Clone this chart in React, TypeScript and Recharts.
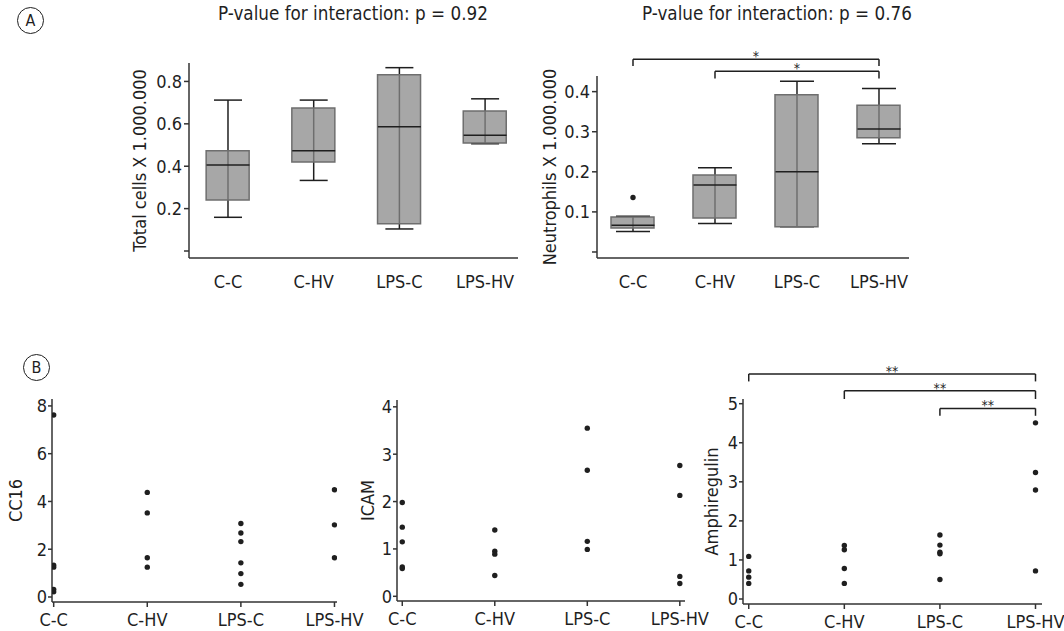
import {
  ComposedChart,
  ScatterChart,
  Bar,
  Scatter,
  ErrorBar,
  XAxis,
  YAxis,
  ReferenceLine,
} from "recharts";

const groups = ["C-C", "C-HV", "LPS-C", "LPS-HV"];

// panel A, total cells: whisker low, q1, median, q3, whisker high
const totalLow = [0.159, 0.333, 0.104, 0.506];
const totalQ1 = [0.241, 0.42, 0.129, 0.509];
const totalMedian = [0.406, 0.473, 0.586, 0.546];
const totalQ3 = [0.473, 0.675, 0.832, 0.66];
const totalHigh = [0.712, 0.712, 0.865, 0.718];

// panel A, neutrophils
const neutroLow = [0.051, 0.071, 0.063, 0.27];
const neutroQ1 = [0.06, 0.085, 0.063, 0.285];
const neutroMedian = [0.067, 0.167, 0.2, 0.307];
const neutroQ3 = [0.087, 0.192, 0.392, 0.366];
const neutroHigh = [0.089, 0.21, 0.426, 0.408];
const neutroOutliers = [{ x: 0, y: 0.136 }];

// panel B, individual values per group
const cc16 = [
  [7.62, 1.33, 1.25, 0.32, 0.22],
  [4.38, 3.52, 1.64, 1.25],
  [3.08, 2.68, 2.32, 1.43, 0.98, 0.53],
  [4.49, 3.02, 1.64],
];
const icam = [
  [1.98, 1.46, 1.15, 0.62, 0.585],
  [1.4, 0.95, 0.89, 0.44],
  [3.55, 2.66, 1.16, 0.99],
  [2.76, 2.13, 0.42, 0.27],
];
const amphiregulin = [
  [1.09, 0.72, 0.56, 0.4],
  [1.37, 1.26, 0.78, 0.4],
  [1.64, 1.38, 1.2, 1.16, 0.5],
  [4.51, 3.24, 2.79, 0.72],
];

const FONT = "'DejaVu Sans Condensed', 'DejaVu Sans', sans-serif";
const INK = "#1f1f1f";
const AXIS = "#333";

const boxRows = (lo: number[], q1: number[], med: number[], q3: number[], hi: number[]) =>
  groups.map((_, i) => ({ x: i, lo: lo[i], q1: q1[i], med: med[i], q3: q3[i], hi: hi[i] }));

const dot = (p: any) => <circle cx={p.cx} cy={p.cy} r={2.7} fill={INK} />;

function brackets(list: { from: number; to: number; top: number; foot: number; mark: string }[]) {
  const line = { stroke: INK, strokeWidth: 1.5, ifOverflow: "visible" as const };
  return list.map((b, k) => (
    <g key={k}>
      <ReferenceLine
        segment={[{ x: b.from, y: b.top }, { x: b.to, y: b.top }]}
        {...line}
        label={{ value: b.mark, position: "top", offset: -2, fill: INK, fontSize: 14, fontFamily: FONT }}
      />
      <ReferenceLine segment={[{ x: b.from, y: b.top }, { x: b.from, y: b.foot }]} {...line} />
      <ReferenceLine segment={[{ x: b.to, y: b.top }, { x: b.to, y: b.foot }]} {...line} />
    </g>
  ));
}

const tickStyle = { fill: INK, fontSize: 18, fontFamily: FONT };
const labelStyle = { textAnchor: "middle" as const, fill: INK, fontSize: 18, fontFamily: FONT };

function BoxPanel({ frame, rows, outliers, yDomain, yTicks, xDomain, yLabel, capHalf, marks }: any) {
  const medians = rows.map((r: any) => ({ x: r.x, y: r.med, err: [r.med - r.lo, r.hi - r.med] }));
  return (
    <div style={{ position: "absolute", left: frame.left, top: frame.top }}>
      <ComposedChart width={frame.width} height={frame.height} data={rows} margin={frame.margin}>
        <XAxis
          type="number"
          dataKey="x"
          domain={xDomain}
          ticks={[0, 1, 2, 3]}
          interval={0}
          allowDataOverflow
          tickFormatter={(i) => groups[i]}
          tickLine={false}
          tickSize={0}
          tickMargin={17}
          height={frame.xHeight}
          axisLine={{ stroke: AXIS, strokeWidth: 1.5 }}
          tick={tickStyle}
        />
        <YAxis
          type="number"
          domain={yDomain}
          ticks={yTicks}
          interval={0}
          allowDataOverflow
          width={frame.yWidth}
          tickFormatter={(v) => (v === 0 ? "" : String(v))}
          tickSize={5}
          tickMargin={2}
          tickLine={{ stroke: AXIS, strokeWidth: 1.5 }}
          axisLine={{ stroke: AXIS, strokeWidth: 1.5 }}
          tick={tickStyle}
          label={{ value: yLabel, angle: -90, position: "insideLeft", offset: frame.labelOffset, style: labelStyle }}
        />
        <Scatter data={medians} dataKey="y" shape={() => <g />} isAnimationActive={false} zIndex={200}>
          <ErrorBar dataKey="err" direction="y" width={capHalf} stroke={INK} strokeWidth={1.5} zIndex={200} />
        </Scatter>
        <Bar
          dataKey={(r: any) => [r.q1, r.q3]}
          barSize={43}
          fill="#8a8a8a"
          fillOpacity={0.75}
          stroke="#6e6e6e"
          strokeWidth={1.5}
          isAnimationActive={false}
          zIndex={500}
        />
        <Scatter
          data={medians}
          dataKey="y"
          isAnimationActive={false}
          zIndex={700}
          shape={(p: any) => (
            <line x1={p.cx - 21.5} x2={p.cx + 21.5} y1={p.cy} y2={p.cy} stroke={INK} strokeWidth={1.5} />
          )}
        />
        {outliers && <Scatter data={outliers} dataKey="y" shape={dot} isAnimationActive={false} zIndex={700} />}
        {marks}
      </ComposedChart>
    </div>
  );
}

function DotPanel({ frame, values, yDomain, yTicks, xDomain, yLabel, marks }: any) {
  const points = values.flatMap((vals: number[], i: number) => vals.map((v) => ({ x: i, y: v })));
  return (
    <div style={{ position: "absolute", left: frame.left, top: frame.top }}>
      <ScatterChart width={frame.width} height={frame.height} margin={frame.margin}>
        <XAxis
          type="number"
          dataKey="x"
          domain={xDomain}
          ticks={[0, 1, 2, 3]}
          interval={0}
          allowDataOverflow
          tickFormatter={(i) => groups[i]}
          tickSize={5}
          tickMargin={6}
          height={frame.xHeight}
          tickLine={{ stroke: AXIS, strokeWidth: 1.5 }}
          axisLine={{ stroke: AXIS, strokeWidth: 1.5 }}
          tick={tickStyle}
        />
        <YAxis
          type="number"
          dataKey="y"
          domain={yDomain}
          ticks={yTicks}
          interval={0}
          allowDataOverflow
          width={frame.yWidth}
          tickSize={4}
          tickMargin={1}
          tickLine={{ stroke: AXIS, strokeWidth: 1.5 }}
          axisLine={{ stroke: AXIS, strokeWidth: 1.5 }}
          tick={tickStyle}
          label={{ value: yLabel, angle: -90, position: "insideLeft", offset: frame.labelOffset, style: labelStyle }}
        />
        <Scatter data={points} shape={dot} isAnimationActive={false} />
        {marks}
      </ScatterChart>
    </div>
  );
}

const circled = (letter: string, left: number, top: number) => (
  <div
    style={{
      position: "absolute",
      left,
      top,
      width: 27,
      height: 27,
      boxSizing: "border-box",
      border: `1px solid ${INK}`,
      borderRadius: "50%",
      fontSize: 16,
      lineHeight: "25px",
      textAlign: "center",
      color: INK,
    }}
  >
    {letter}
  </div>
);

const title = (text: string, center: number) => (
  <div style={{ position: "absolute", left: center - 200, top: 3, width: 400, textAlign: "center", fontSize: 18.7, color: INK }}>
    {text}
  </div>
);

export default function App() {
  return (
    <div style={{ position: "absolute", left: 0, top: 0, width: 1064, height: 631, background: "#fff", fontFamily: FONT }}>
      {circled("A", 17, 7)}
      {circled("B", 23, 354)}
      {title("P-value for interaction: p = 0.92", 353)}
      {title("P-value for interaction: p = 0.76", 777)}

      <BoxPanel
        frame={{ left: 100, top: 30, width: 428, height: 273, margin: { top: 33, right: 10, bottom: 5, left: 29 }, yWidth: 60, xHeight: 40, labelOffset: 11 }}
        rows={boxRows(totalLow, totalQ1, totalMedian, totalQ3, totalHigh)}
        yDomain={[-0.033, 0.887]}
        yTicks={[0, 0.2, 0.4, 0.6, 0.8]}
        xDomain={[-0.455, 3.384]}
        yLabel="Total cells X 1.000.000"
        capHalf={14}
      />
      <BoxPanel
        frame={{ left: 510, top: 30, width: 429, height: 273, margin: { top: 46, right: 30, bottom: 5, left: 27 }, yWidth: 60, xHeight: 40, labelOffset: 13 }}
        rows={boxRows(neutroLow, neutroQ1, neutroMedian, neutroQ3, neutroHigh)}
        outliers={neutroOutliers}
        yDomain={[-0.015, 0.439]}
        yTicks={[0, 0.1, 0.2, 0.3, 0.4]}
        xDomain={[-0.439, 3.366]}
        yLabel="Neutrophils X 1.000.000"
        capHalf={17}
        marks={brackets([
          { from: 0, to: 3, top: 0.481, foot: 0.464, mark: "*" },
          { from: 1, to: 3, top: 0.451, foot: 0.433, mark: "*" },
        ])}
      />

      <DotPanel
        frame={{ left: 0, top: 380, width: 372, height: 251, margin: { top: 19, right: 35, bottom: 0, left: 0 }, yWidth: 52, xHeight: 29, labelOffset: 16 }}
        values={cc16}
        yDomain={[-0.21, 8.29]}
        yTicks={[0, 2, 4, 6, 8]}
        xDomain={[-0.018, 3.027]}
        yLabel="CC16"
      />
      <DotPanel
        frame={{ left: 340, top: 380, width: 380, height: 251, margin: { top: 20, right: 35, bottom: 0, left: 0 }, yWidth: 57, xHeight: 30, labelOffset: 28 }}
        values={icam}
        yDomain={[-0.099, 4.144]}
        yTicks={[0, 1, 2, 3, 4]}
        xDomain={[-0.057, 3.056]}
        yLabel="ICAM"
      />
      <DotPanel
        frame={{ left: 680, top: 340, width: 384, height: 291, margin: { top: 59, right: 22, bottom: 0, left: 0 }, yWidth: 63, xHeight: 27, labelOffset: 32 }}
        values={amphiregulin}
        yDomain={[-0.128, 5.12]}
        yTicks={[0, 1, 2, 3, 4, 5]}
        xDomain={[-0.06, 3.068]}
        yLabel="Amphiregulin"
        marks={brackets([
          { from: 0, to: 3, top: 5.76, foot: 5.57, mark: "**" },
          { from: 1, to: 3, top: 5.33, foot: 5.12, mark: "**" },
          { from: 2, to: 3, top: 4.88, foot: 4.69, mark: "**" },
        ])}
      />
    </div>
  );
}
